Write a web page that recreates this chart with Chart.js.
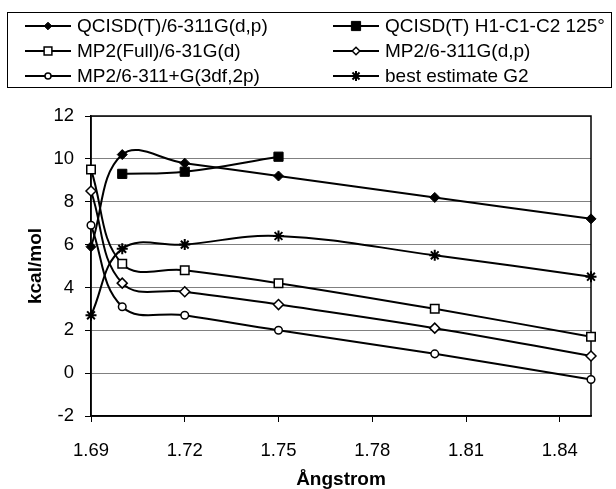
<!DOCTYPE html>
<html><head><meta charset="utf-8">
<script src="https://cdn.jsdelivr.net/npm/chart.js@4.4.0/dist/chart.umd.min.js"></script>
<style>html,body{margin:0;padding:0;background:#fff;}</style>
</head><body>
<canvas id="c" width="616" height="489"></canvas>
<script>
// ---- data ----
const xValues      = [1.69, 1.70, 1.72, 1.75, 1.80, 1.85];
const xValuesH1    = [1.70, 1.72, 1.75];
const qcisdT       = [5.9, 10.2, 9.8, 9.2, 8.2, 7.2];   // QCISD(T)/6-311G(d,p)
const qcisdTH1     = [9.3, 9.4, 10.1];                  // QCISD(T) H1-C1-C2 125°
const mp2Full      = [9.5, 5.1, 4.8, 4.2, 3.0, 1.7];    // MP2(Full)/6-31G(d)
const mp2_6311     = [8.5, 4.2, 3.8, 3.2, 2.1, 0.8];    // MP2/6-311G(d,p)
const mp2_6311plus = [6.9, 3.1, 2.7, 2.0, 0.9, -0.3];   // MP2/6-311+G(3df,2p)
const bestG2       = [2.7, 5.8, 6.0, 6.4, 5.5, 4.5];    // best estimate G2
const xTickValues  = [1.69, 1.72, 1.75, 1.78, 1.81, 1.84];
const yMin = -2, yMax = 12, yStep = 2;
const seriesLabels = ['QCISD(T)/6-311G(d,p)', 'QCISD(T) H1-C1-C2 125°', 'MP2(Full)/6-31G(d)',
                      'MP2/6-311G(d,p)', 'MP2/6-311+G(3df,2p)', 'best estimate G2'];
const xTitle = 'Ångstrom';
const yTitle = 'kcal/mol';

const pts = (xs, ys) => ys.map((y, i) => ({x: xs[i], y}));

function lineDs(label, data, style, radius, fillColor, bw, legendRadius) {
  return {
    label, data,
    borderColor: '#000', borderWidth: 2, tension: 0.4, fill: false, clip: false,
    pointStyle: style, pointRadius: radius, pointHoverRadius: radius,
    pointBackgroundColor: fillColor, pointBorderColor: '#000', pointBorderWidth: bw,
    legendRadius
  };
}

const datasets = [
  lineDs(seriesLabels[0], pts(xValues, qcisdT), 'rectRot', 5, '#000', 1, 3.8),
  lineDs(seriesLabels[1], pts(xValuesH1, qcisdTH1), 'rect', 6.5, '#000', 1, 6.5),
  lineDs(seriesLabels[2], pts(xValues, mp2Full), 'rect', 6, '#fff', 1.5, 5.5),
  lineDs(seriesLabels[3], pts(xValues, mp2_6311), 'rectRot', 5, '#fff', 1.5, 3.8),
  lineDs(seriesLabels[4], pts(xValues, mp2_6311plus), 'circle', 3.8, '#fff', 1.5, 3),
  lineDs(seriesLabels[5], pts(xValues, bestG2), 'star', 5.5, '#000', 2, 5),
];

const FONT = 'Liberation Sans';

const framePlugin = {
  id: 'frame',
  beforeDatasetsDraw(chart) {
    const {ctx, chartArea: a} = chart;
    ctx.save();
    ctx.strokeStyle = '#000';
    ctx.lineWidth = 1.5;
    ctx.strokeRect(a.left, a.top, a.right - a.left, a.bottom - a.top);
    ctx.restore();
  }
};

const boxLegend = {
  id: 'boxLegend',
  afterDraw(chart) {
    const ctx = chart.ctx;
    ctx.save();
    ctx.strokeStyle = '#000';
    ctx.lineWidth = 1;
    ctx.strokeRect(7.5, 12.5, 604, 75);
    const colX = [25, 333], rowY = [26, 51, 76], lineLen = 46;
    chart.data.datasets.forEach((ds, i) => {
      const cx = colX[i % 2], cy = rowY[Math.floor(i / 2)];
      ctx.strokeStyle = '#000';
      ctx.lineWidth = 2;
      ctx.beginPath();
      ctx.moveTo(cx, cy);
      ctx.lineTo(cx + lineLen, cy);
      ctx.stroke();
      ctx.fillStyle = ds.pointBackgroundColor;
      ctx.strokeStyle = '#000';
      ctx.lineWidth = ds.pointBorderWidth;
      Chart.helpers.drawPoint(ctx, {pointStyle: ds.pointStyle, radius: ds.legendRadius,
        borderWidth: ds.pointBorderWidth, rotation: 0}, cx + lineLen / 2, cy);
      ctx.fillStyle = '#000';
      ctx.font = '19px "' + FONT + '"';
      ctx.textBaseline = 'middle';
      ctx.textAlign = 'left';
      ctx.fillText(ds.label, cx + 52, cy + 1);
    });
    ctx.restore();
  }
};

new Chart(document.getElementById('c'), {
  type: 'line',
  data: {datasets},
  options: {
    responsive: false,
    animation: false,
    devicePixelRatio: 1,
    layout: {padding: {top: 116, right: 25, bottom: 0, left: 0}},
    plugins: {legend: {display: false}, tooltip: {enabled: false}},
    scales: {
      x: {
        type: 'linear', min: 1.69, max: 1.85,
        afterBuildTicks: s => { s.ticks = xTickValues.map(v => ({value: v})); },
        afterFit: s => { s.height = 73; },
        grid: {drawOnChartArea: false, drawTicks: true, tickLength: 6, tickColor: '#000', color: '#000', tickWidth: 1},
        border: {display: true, color: '#000', width: 1.5},
        ticks: {color: '#000', font: {family: FONT, size: 18.5}, padding: 18, maxRotation: 0, autoSkip: false,
                callback: v => Number(v).toFixed(2)},
        title: {display: true, text: xTitle, color: '#000',
                font: {family: FONT, size: 19, weight: 'bold', lineHeight: 1}, padding: {top: 0, bottom: 0}}
      },
      y: {
        min: yMin, max: yMax,
        afterFit: s => { s.width = 91; },
        grid: {color: '#808080', lineWidth: 1, tickLength: 6, tickColor: '#000'},
        border: {display: true, color: '#000', width: 1.5},
        ticks: {stepSize: yStep, color: '#000', font: {family: FONT, size: 18.5}, padding: 11},
        title: {display: true, text: yTitle, color: '#000',
                font: {family: FONT, size: 19, weight: 'bold', lineHeight: 1}, padding: {top: 26, bottom: 0}}
      }
    }
  },
  plugins: [framePlugin, boxLegend]
});
</script>
</body></html>
